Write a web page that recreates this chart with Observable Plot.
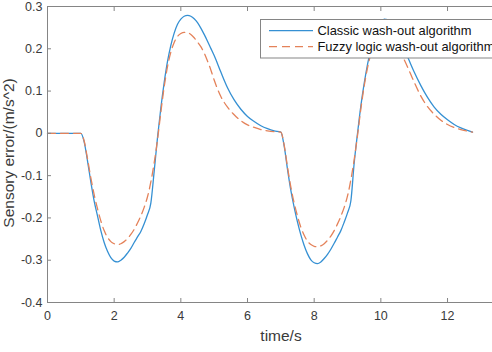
<!DOCTYPE html>
<html>
<head>
<meta charset="utf-8">
<script src="https://cdn.jsdelivr.net/npm/d3@7"></script>
<script src="https://cdn.jsdelivr.net/npm/@observablehq/plot@0.6"></script>
<style>
  html, body { margin: 0; padding: 0; background: #fff; }
  #chart svg { display: block; }
</style>
</head>
<body>
<div id="chart"></div>
<script>
const time = [0, 1.0,
  1.1,1.2,1.3,1.4,1.5,1.6,1.7,1.8,1.9,2.0,2.1,2.2,2.3,2.4,2.5,2.6,2.7,2.8,2.9,3.0,
  3.1,3.2,3.3,3.4,3.5,3.6,3.7,3.8,3.9,4.0,4.1,4.2,4.3,4.4,4.5,4.6,4.7,4.8,4.9,5.0,
  5.2,5.4,5.6,5.8,6.0,6.2,6.4,6.6,6.8,7.0,
  7.1,7.2,7.3,7.4,7.5,7.6,7.7,7.8,7.9,8.0,8.1,8.2,8.3,8.4,8.5,8.6,8.7,8.8,8.9,9.0,
  9.1,9.2,9.3,9.4,9.5,9.6,9.7,9.8,9.9,10.0,10.1,10.2,10.3,10.4,10.5,10.6,10.7,10.8,10.9,11.0,
  11.2,11.4,11.6,11.8,12.0,12.2,12.4,12.6,12.75];

const classic = [0, 0,
  -0.02,-0.065,-0.115,-0.16,-0.195,-0.23,-0.258,-0.279,-0.294,-0.302,
  -0.304,-0.300,-0.293,-0.283,-0.272,-0.258,-0.245,-0.232,-0.214,-0.192,
  -0.165,-0.09,-0.01,0.06,0.12,0.17,0.208,0.237,0.258,0.27,
  0.277,0.279,0.277,0.271,0.262,0.249,0.234,0.218,0.201,0.184,
  0.145,0.108,0.079,0.057,0.04,0.028,0.018,0.011,0.006,0.003,
  -0.03,-0.085,-0.135,-0.175,-0.21,-0.24,-0.265,-0.285,-0.299,-0.306,
  -0.308,-0.304,-0.296,-0.286,-0.274,-0.26,-0.245,-0.23,-0.21,-0.188,
  -0.16,-0.07,0.0,0.065,0.118,0.163,0.2,0.229,0.25,0.262,
  0.27,0.269,0.264,0.254,0.24,0.221,0.2,0.182,0.163,0.145,
  0.113,0.085,0.062,0.045,0.032,0.021,0.013,0.007,
  0.003];

const fuzzy = [0, 0,
  -0.018,-0.06,-0.105,-0.145,-0.178,-0.207,-0.23,-0.246,-0.256,-0.261,
  -0.263,-0.261,-0.256,-0.249,-0.239,-0.227,-0.212,-0.195,-0.175,-0.15,
  -0.115,-0.07,-0.015,0.05,0.11,0.158,0.192,0.215,0.229,0.236,
  0.239,0.238,0.234,0.226,0.216,0.205,0.19,0.171,0.15,0.126,
  0.087,0.062,0.044,0.030,0.020,0.014,0.009,0.006,0.004,0.003,
  -0.028,-0.08,-0.127,-0.165,-0.196,-0.222,-0.241,-0.255,-0.263,-0.267,
  -0.268,-0.266,-0.261,-0.253,-0.243,-0.23,-0.214,-0.196,-0.175,-0.148,
  -0.11,-0.062,-0.005,0.058,0.112,0.155,0.188,0.21,0.224,0.231,
  0.233,0.231,0.225,0.216,0.204,0.19,0.174,0.157,0.139,0.121,
  0.088,0.063,0.045,0.031,0.021,0.014,0.009,0.005,
  0.003];

const seriesNames = ["Classic wash-out algorithm", "Fuzzy logic wash-out algorithm"];
const xTicks = [0, 2, 4, 6, 8, 10, 12];
const yTicks = [-0.4, -0.3, -0.2, -0.1, 0, 0.1, 0.2, 0.3];
const xLabel = "time/s";
const yLabel = "Sensory error/(m/s^2)";

const colors = ["#3590d3", "#e4825a"];
const dashes = [null, "8,5"];
const axisColor = "#858585";
const textColor = "#3a3a3a";
const font = "'Liberation Sans', Arial, sans-serif";

const rowsC = time.map((t, i) => ({t, v: classic[i]}));
const rowsF = time.map((t, i) => ({t, v: fuzzy[i]}));

const W = 492, H = 352;
const plot = Plot.plot({
  width: W,
  height: H,
  marginLeft: 47,
  marginTop: 6,
  marginBottom: 50,
  marginRight: 0,
  style: {fontFamily: font, fontSize: "12.5px", color: textColor, background: "#fff", overflow: "hidden"},
  x: {domain: [0, 14], range: [47, 513.7]},
  y: {domain: [-0.4, 0.3], range: [302, 6]},
  marks: [
    Plot.line(rowsC, {x: "t", y: "v", stroke: colors[0], strokeWidth: 1.3, curve: "monotone-x"}),
    Plot.line(rowsF, {x: "t", y: "v", stroke: colors[1], strokeWidth: 1.3, strokeDasharray: dashes[1], curve: "monotone-x"}),
    Plot.axisX(xTicks, {anchor: "bottom", tickSize: -4, tickPadding: 13, stroke: axisColor, label: null, tickFormat: d => String(d), fill: textColor}),
    Plot.axisX(xTicks, {anchor: "top", tickSize: -4, stroke: axisColor, label: null, tickFormat: () => ""}),
    Plot.axisY(yTicks, {anchor: "left", tickSize: -4, tickPadding: 9, stroke: axisColor, label: null, tickFormat: d => d === 0 ? "0" : d.toFixed(1), fill: textColor}),
    Plot.frame({stroke: axisColor, strokeWidth: 1})
  ]
});
document.getElementById("chart").appendChild(plot);

const svg = d3.select(plot);
// axis titles
svg.append("text")
  .attr("x", 281).attr("y", 341)
  .attr("text-anchor", "middle")
  .attr("font-family", font).attr("font-size", "15.5px").attr("fill", textColor)
  .text(xLabel);
svg.append("text")
  .attr("transform", "translate(13.5,153) rotate(-90)")
  .attr("text-anchor", "middle")
  .attr("font-family", font).attr("font-size", "15.5px").attr("fill", textColor)
  .text(yLabel);

// legend
const lg = svg.append("g");
lg.append("rect").attr("x", 260.5).attr("y", 19.5).attr("width", 300).attr("height", 38.5)
  .attr("fill", "#fff").attr("stroke", axisColor).attr("stroke-width", 1);
seriesNames.forEach((name, i) => {
  const cy = 30.7 + i * 16;
  lg.append("line").attr("x1", 269).attr("x2", 313).attr("y1", cy).attr("y2", cy)
    .attr("stroke", colors[i]).attr("stroke-width", 1.3)
    .attr("stroke-dasharray", dashes[i]);
  lg.append("text").attr("x", 317.5).attr("y", cy).attr("dy", "0.35em")
    .attr("text-anchor", "start")
    .attr("font-family", font).attr("font-size", "12.9px").attr("fill", "#111")
    .text(name);
});
</script>
</body>
</html>
